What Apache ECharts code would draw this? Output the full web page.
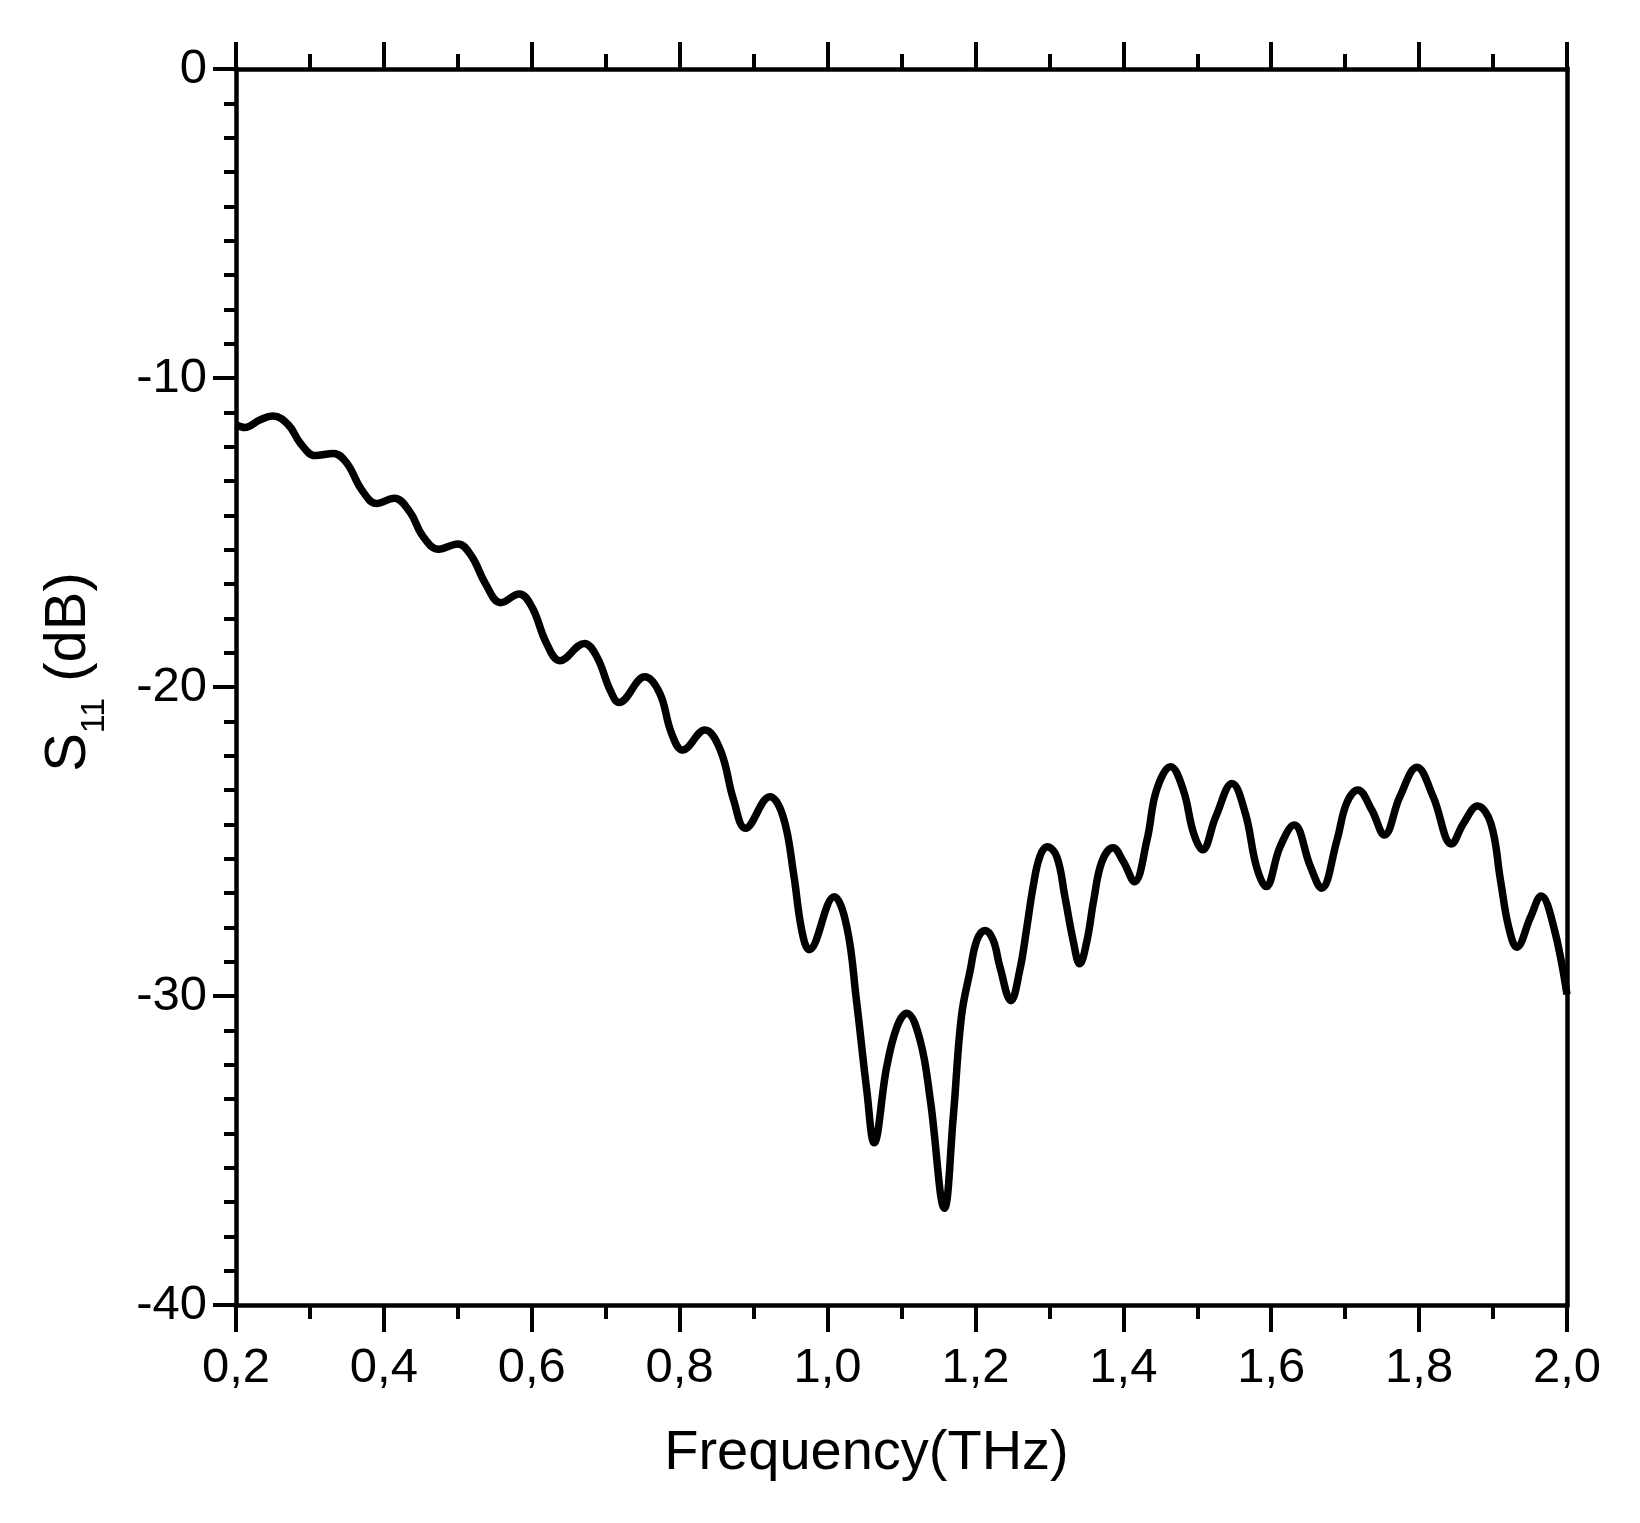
<!DOCTYPE html>
<html><head><meta charset="utf-8">
<script src="https://cdn.jsdelivr.net/npm/echarts@6/dist/echarts.min.js"></script>
<style>html,body{margin:0;padding:0;background:#fff}#chart{width:1640px;height:1523px}</style>
</head><body><div id="chart"></div>
<script>
// Frequency (THz) and S11 (dB)
const frequency = [
  0.200, 0.212, 0.232, 0.250, 0.271, 0.287, 0.307, 0.332, 0.350, 0.370,
  0.390, 0.414, 0.435, 0.453, 0.474, 0.500, 0.519, 0.537, 0.558, 0.583,
  0.600, 0.620, 0.638, 0.671, 0.688, 0.706, 0.718, 0.753, 0.773, 0.789,
  0.804, 0.834, 0.855, 0.873, 0.889, 0.922, 0.940, 0.954, 0.965, 0.975,
  1.009, 1.026, 1.039, 1.053, 1.063, 1.080, 1.094, 1.107, 1.125, 1.139,
  1.158, 1.170, 1.181, 1.193, 1.202, 1.213, 1.224, 1.233, 1.248, 1.260,
  1.269, 1.278, 1.287, 1.297, 1.310, 1.321, 1.332, 1.341, 1.351, 1.360,
  1.371, 1.386, 1.400, 1.415, 1.432, 1.445,
  1.464, 1.481, 1.495, 1.507, 1.525, 1.547, 1.565, 1.580, 1.593, 1.612,
  1.631, 1.653, 1.668, 1.689, 1.702, 1.717, 1.736, 1.753, 1.774, 1.797,
  1.819, 1.844, 1.860, 1.879, 1.897, 1.910, 1.921, 1.932, 1.951, 1.965,
  1.982, 2.000
];
const s11 = [
  -11.52, -11.60, -11.36, -11.23, -11.52, -12.11, -12.51, -12.44, -12.76, -13.62,
  -14.06, -13.89, -14.33, -15.13, -15.54, -15.37, -15.78, -16.64, -17.27, -16.99,
  -17.40, -18.59, -19.15, -18.59, -19.02, -20.10, -20.50, -19.67, -20.20, -21.50,
  -22.04, -21.39, -22.04, -23.66, -24.57, -23.55, -24.20, -26.03, -27.86, -28.50,
  -26.79, -27.76, -30.13, -33.04, -34.75, -32.29, -30.99, -30.56, -31.42, -33.37,
  -36.87, -33.91, -30.67, -29.16, -28.19, -27.88, -28.19, -29.05, -30.15, -29.16,
  -27.86, -26.46, -25.49, -25.17, -25.49, -26.79, -28.19, -28.96, -28.19, -26.89,
  -25.65, -25.20, -25.65, -26.30, -24.95, -23.33,
  -22.58, -23.33, -24.73, -25.27, -24.20, -23.12, -24.09, -25.81, -26.46, -25.17,
  -24.47, -25.81, -26.51, -24.95, -23.76, -23.33, -23.98, -24.79, -23.55, -22.60,
  -23.55, -25.08, -24.41, -23.85, -24.41, -26.25, -27.76, -28.42, -27.43, -26.76,
  -27.76, -29.95
];
const xTickValues = [0.2, 0.4, 0.6, 0.8, 1.0, 1.2, 1.4, 1.6, 1.8, 2.0];
const xTickLabels = ['0,2', '0,4', '0,6', '0,8', '1,0', '1,2', '1,4', '1,6', '1,8', '2,0'];
const yTickValues = [-40, -30, -20, -10, 0];
const yTickLabels = ['-40', '-30', '-20', '-10', '0'];

const font = 'Arial, "Liberation Sans", sans-serif';
const black = '#000';

function lookup(values, labels, v) {
  for (let i = 0; i < values.length; i++) {
    if (Math.abs(values[i] - v) < 1e-6) return labels[i];
  }
  return '';
}

const chart = echarts.init(document.getElementById('chart'), null, { renderer: 'canvas' });
const axisLine = { show: true, onZero: false, lineStyle: { color: black, width: 4.5, cap: 'square' } };

chart.setOption({
  animation: false,
  backgroundColor: '#fff',
  grid: { left: 236, right: 73, top: 69, bottom: 218, containLabel: false },
  xAxis: [
    {
      type: 'value', position: 'bottom', min: 0.2, max: 2.0, interval: 0.2,
      axisLine: axisLine,
      axisTick: { show: true, inside: false, length: 27, lineStyle: { color: black, width: 4 } },
      minorTick: { show: true, splitNumber: 2, length: 14, lineStyle: { color: black, width: 4 } },
      splitLine: { show: false },
      axisLabel: {
        margin: 39, fontSize: 49, color: black, fontFamily: font,
        formatter: v => lookup(xTickValues, xTickLabels, v)
      },
      name: 'Frequency(THz)', nameLocation: 'middle', nameGap: 121,
      nameTextStyle: { fontSize: 56, color: black, fontFamily: font, padding: [0, 70, 0, 0] }
    },
    {
      type: 'value', position: 'top', min: 0.2, max: 2.0, interval: 0.2,
      axisLine: axisLine,
      axisTick: { show: true, inside: false, length: 27, lineStyle: { color: black, width: 4 } },
      minorTick: { show: true, splitNumber: 2, length: 15, lineStyle: { color: black, width: 4 } },
      splitLine: { show: false },
      axisLabel: { show: false }
    }
  ],
  yAxis: [
    {
      type: 'value', position: 'left', min: -40, max: 0, interval: 10,
      axisLine: axisLine,
      axisTick: { show: true, inside: false, length: 23, lineStyle: { color: black, width: 4 } },
      minorTick: { show: true, splitNumber: 9, length: 12, lineStyle: { color: black, width: 4 } },
      splitLine: { show: false },
      axisLabel: {
        margin: 29, fontSize: 49, color: black, fontFamily: font,
        formatter: v => lookup(yTickValues, yTickLabels, v)
      },
      name: '{a|S}{b|11}{a| (dB)}', nameLocation: 'middle', nameGap: 138,
      nameTextStyle: {
        color: black, fontFamily: font, padding: [0, 0, 0, 30],
        rich: {
          a: { fontSize: 58, lineHeight: 58, verticalAlign: 'top', fontFamily: font, color: black },
          b: { fontSize: 34, lineHeight: 34, verticalAlign: 'top', padding: [38, 0, 0, 0], fontFamily: font, color: black }
        }
      }
    },
    {
      type: 'value', position: 'right', min: -40, max: 0, interval: 10,
      axisLine: axisLine,
      axisTick: { show: false }, minorTick: { show: false },
      splitLine: { show: false }, axisLabel: { show: false }
    }
  ],
  series: [{
    type: 'line', xAxisIndex: 0, yAxisIndex: 0,
    data: frequency.map((f, i) => [f, s11[i]]),
    showSymbol: false, smooth: 0.4,
    lineStyle: { color: black, width: 7.5 },
    clip: false
  }]
});
</script></body></html>
